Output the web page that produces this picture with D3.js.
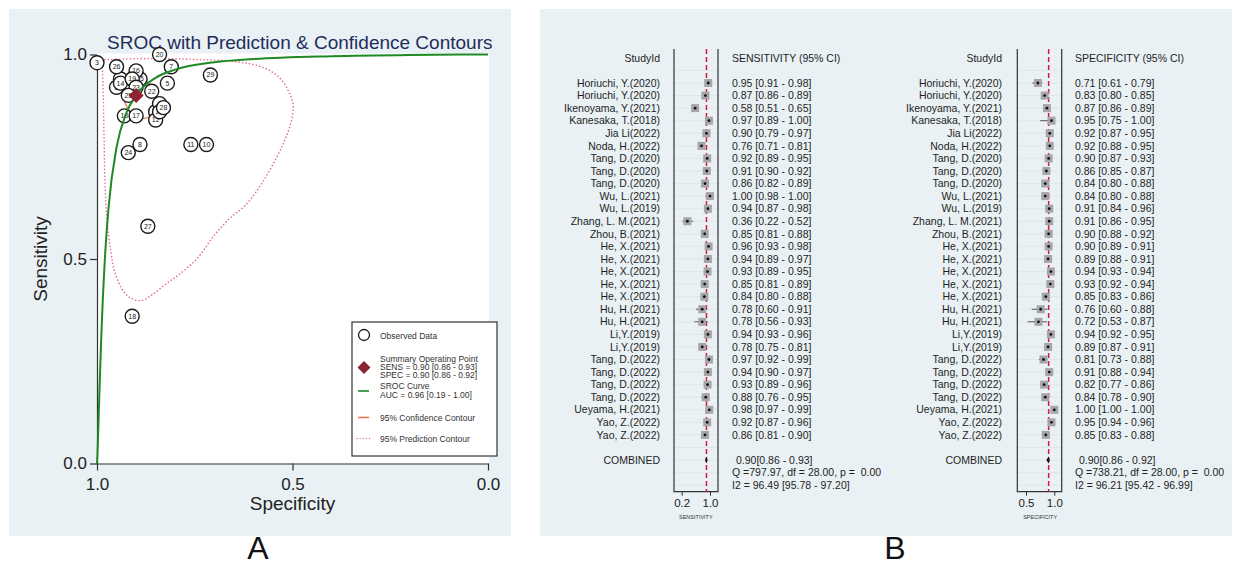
<!DOCTYPE html>
<html>
<head>
<meta charset="utf-8">
<script src="https://cdn.jsdelivr.net/npm/d3@7"></script>
<style>
  html, body { margin: 0; padding: 0; background: #ffffff; }
  svg { display: block; font-family: "Liberation Sans", Arial, Helvetica, sans-serif; }
  text { white-space: pre; }
</style>
</head>
<body>
<svg id="fig" width="1238" height="567"></svg>
<script>
// ---- Study-level accuracy data (estimate, lower, upper) ----
const studyIds = [
  "Horiuchi, Y.(2020)", "Horiuchi, Y.(2020)", "Ikenoyama, Y.(2021)", "Kanesaka, T.(2018)",
  "Jia Li(2022)", "Noda, H.(2022)", "Tang, D.(2020)", "Tang, D.(2020)", "Tang, D.(2020)",
  "Wu, L.(2021)", "Wu, L.(2019)", "Zhang, L. M.(2021)", "Zhou, B.(2021)",
  "He, X.(2021)", "He, X.(2021)", "He, X.(2021)", "He, X.(2021)", "He, X.(2021)",
  "Hu, H.(2021)", "Hu, H.(2021)", "Li,Y.(2019)", "Li,Y.(2019)",
  "Tang, D.(2022)", "Tang, D.(2022)", "Tang, D.(2022)", "Tang, D.(2022)",
  "Ueyama, H.(2021)", "Yao, Z.(2022)", "Yao, Z.(2022)"
];
const sensEst = [0.95, 0.87, 0.58, 0.97, 0.90, 0.76, 0.92, 0.91, 0.86, 1.00, 0.94, 0.36, 0.85,
                 0.96, 0.94, 0.93, 0.85, 0.84, 0.78, 0.78, 0.94, 0.78, 0.97, 0.94, 0.93, 0.88,
                 0.98, 0.92, 0.86];
const sensLo  = [0.91, 0.86, 0.51, 0.89, 0.79, 0.71, 0.89, 0.90, 0.82, 0.98, 0.87, 0.22, 0.81,
                 0.93, 0.89, 0.89, 0.81, 0.80, 0.60, 0.56, 0.93, 0.75, 0.92, 0.90, 0.89, 0.76,
                 0.97, 0.87, 0.81];
const sensHi  = [0.98, 0.89, 0.65, 1.00, 0.97, 0.81, 0.95, 0.92, 0.89, 1.00, 0.98, 0.52, 0.88,
                 0.98, 0.97, 0.95, 0.89, 0.88, 0.91, 0.93, 0.96, 0.81, 0.99, 0.97, 0.96, 0.95,
                 0.99, 0.96, 0.90];
const specEst = [0.71, 0.83, 0.87, 0.95, 0.92, 0.92, 0.90, 0.86, 0.84, 0.84, 0.91, 0.91, 0.90,
                 0.90, 0.89, 0.94, 0.93, 0.85, 0.76, 0.72, 0.94, 0.89, 0.81, 0.91, 0.82, 0.84,
                 1.00, 0.95, 0.85];
const specLo  = [0.61, 0.80, 0.86, 0.75, 0.87, 0.88, 0.87, 0.85, 0.80, 0.80, 0.84, 0.86, 0.88,
                 0.89, 0.88, 0.93, 0.92, 0.83, 0.60, 0.53, 0.92, 0.87, 0.73, 0.88, 0.77, 0.78,
                 1.00, 0.94, 0.83];
const specHi  = [0.79, 0.85, 0.89, 1.00, 0.95, 0.95, 0.93, 0.87, 0.88, 0.88, 0.96, 0.95, 0.92,
                 0.91, 0.91, 0.94, 0.94, 0.86, 0.88, 0.87, 0.95, 0.91, 0.88, 0.94, 0.86, 0.90,
                 1.00, 0.96, 0.88];

// ---- Pooled estimates and heterogeneity ----
const pooledSens = [0.90, 0.86, 0.93];
const pooledSpec = [0.90, 0.86, 0.92];
const sensStats = ["Q =797.97, df = 28.00, p =  0.00", "I2 = 96.49 [95.78 - 97.20]"];
const specStats = ["Q =738.21, df = 28.00, p =  0.00", "I2 = 96.21 [95.42 - 96.99]"];
const aucSummary = [0.96, 0.19, 1.00];

// ---- SROC curve and contours as (specificity, sensitivity) pairs ----
const srocCurve = [
  [1.000, 0.000], [0.999, 0.019], [0.997, 0.076], [0.994, 0.169], [0.990, 0.285],
  [0.980, 0.498], [0.970, 0.630], [0.950, 0.773], [0.925, 0.857], [0.900, 0.900],
  [0.850, 0.943], [0.800, 0.963], [0.700, 0.981], [0.600, 0.989], [0.400, 0.996],
  [0.200, 0.999], [0.000, 1.000]
];
const confContour = [
  [0.930, 0.925], [0.918, 0.940], [0.898, 0.946], [0.874, 0.936], [0.856, 0.916],
  [0.845, 0.890], [0.847, 0.866], [0.860, 0.851], [0.880, 0.844], [0.900, 0.849],
  [0.917, 0.862], [0.929, 0.884], [0.934, 0.905]
];
const predContour = [
  [0.988, 0.984], [0.950, 0.988], [0.850, 0.990], [0.750, 0.988], [0.650, 0.983],
  [0.580, 0.970], [0.535, 0.945], [0.510, 0.910], [0.498, 0.875], [0.505, 0.830],
  [0.520, 0.790], [0.540, 0.750], [0.575, 0.690], [0.620, 0.632], [0.660, 0.600],
  [0.700, 0.558], [0.745, 0.500], [0.790, 0.462], [0.822, 0.440], [0.860, 0.412],
  [0.888, 0.398], [0.915, 0.405], [0.935, 0.425], [0.955, 0.470], [0.965, 0.520],
  [0.975, 0.600], [0.980, 0.700], [0.982, 0.800], [0.984, 0.900], [0.986, 0.960]
];

// ---- Axis ticks ----
const srocTicks = [0.0, 0.5, 1.0];
const sensForestTicks = [0.2, 1.0];
const specForestTicks = [0.5, 1.0];

const BG = "#e9f1f4";
const f2 = d3.format(".2f");
const f1 = d3.format(".1f");
const svg = d3.select("#fig");

// Panel backgrounds
svg.append("rect").attr("x", 9).attr("y", 9).attr("width", 502).attr("height", 527).attr("fill", BG);
svg.append("rect").attr("x", 540).attr("y", 9).attr("width", 692).attr("height", 527).attr("fill", BG);

// ======================= Panel A: SROC =======================
const x = d3.scaleLinear().domain([1, 0]).range([97, 488]);
const y = d3.scaleLinear().domain([0, 1]).range([463.5, 54.5]);

const gA = svg.append("g");
gA.append("rect")
  .attr("x", x(1)).attr("y", y(1) - 1)
  .attr("width", x(0) - x(1) + 1).attr("height", y(0) - y(1) + 1)
  .attr("fill", "#ffffff");

gA.append("text")
  .attr("x", 107).attr("y", 49)
  .attr("font-size", 19).attr("fill", "#1f2d5c")
  .text("SROC with Prediction & Confidence Contours");

const yAxis = gA.append("g").attr("transform", `translate(${x(1)},0)`)
  .call(d3.axisLeft(y).tickValues(srocTicks).tickFormat(f1).tickSize(7).tickSizeOuter(0).tickPadding(3));
const xAxis = gA.append("g").attr("transform", `translate(0,${y(0)})`)
  .call(d3.axisBottom(x).tickValues(srocTicks).tickFormat(f1).tickSize(7).tickSizeOuter(0).tickPadding(7));
[yAxis, xAxis].forEach(a => {
  a.selectAll("text").attr("font-size", 17).attr("fill", "#222").attr("font-family", "Liberation Sans, Arial, sans-serif");
  a.selectAll("line, path").attr("stroke", "#333").attr("stroke-width", 1.2);
});

gA.append("text")
  .attr("x", x(0.5)).attr("y", 510).attr("text-anchor", "middle")
  .attr("font-size", 19).attr("fill", "#222").text("Specificity");
gA.append("text")
  .attr("transform", `translate(47,${y(0.5)}) rotate(-90)`)
  .attr("text-anchor", "middle").attr("font-size", 19).attr("fill", "#222").text("Sensitivity");

const pt = d => [x(d[0]), y(d[1])];

// Prediction contour (dotted)
gA.append("path")
  .attr("d", d3.line().curve(d3.curveCatmullRomClosed)(predContour.map(pt)))
  .attr("fill", "none").attr("stroke", "#e46f96").attr("stroke-width", 1.6)
  .attr("stroke-dasharray", "0.1,3.4").attr("stroke-linecap", "round");

// Confidence contour
gA.append("path")
  .attr("d", d3.line().curve(d3.curveCatmullRomClosed)(confContour.map(pt)))
  .attr("fill", "none").attr("stroke", "#f27a52").attr("stroke-width", 1.3);

// Observed studies (numbered in reverse listing order)
const obs = studyIds.map((s, i) => ({ id: studyIds.length - i, sens: sensEst[i], spec: specEst[i] }))
  .sort((a, b) => a.id - b.id);
const og = gA.append("g").selectAll("g").data(obs).join("g")
  .attr("transform", d => `translate(${x(d.spec)},${y(d.sens)})`);
og.append("circle").attr("r", 7).attr("fill", "#ffffff").attr("stroke", "#1a1a1a").attr("stroke-width", 1.4);
og.append("text").attr("text-anchor", "middle").attr("dy", "0.35em")
  .attr("font-size", 7).attr("fill", "#222").text(d => d.id);

// SROC curve
gA.append("path")
  .attr("d", d3.line().curve(d3.curveMonotoneX)(srocCurve.map(pt)))
  .attr("fill", "none").attr("stroke", "#1f8a24").attr("stroke-width", 2);

// Summary operating point
const diamond = (cx, cy, r) => `M${cx},${cy - r}L${cx + r},${cy}L${cx},${cy + r}L${cx - r},${cy}Z`;
gA.append("path").attr("d", diamond(x(pooledSpec[0]), y(pooledSens[0]), 7.5)).attr("fill", "#8c2431");

// Legend
const lg = gA.append("g");
lg.append("rect").attr("x", 352).attr("y", 322).attr("width", 145).attr("height", 134)
  .attr("fill", "#ffffff").attr("stroke", "#333").attr("stroke-width", 1.2);
const lt = (yy, s) => lg.append("text").attr("x", 380).attr("y", yy).attr("font-size", 8.5).attr("fill", "#333").text(s);
lg.append("circle").attr("cx", 364).attr("cy", 335).attr("r", 5.5).attr("fill", "#fff").attr("stroke", "#1a1a1a").attr("stroke-width", 1.3);
lt(338.5, "Observed Data");
lg.append("path").attr("d", diamond(364, 367.5, 6.5)).attr("fill", "#8c2431");
lt(362, "Summary Operating Point");
lt(370, `SENS = ${f2(pooledSens[0])} [${f2(pooledSens[1])} - ${f2(pooledSens[2])}]`);
lt(378, `SPEC = ${f2(pooledSpec[0])} [${f2(pooledSpec[1])} - ${f2(pooledSpec[2])}]`);
lg.append("line").attr("x1", 358).attr("x2", 369).attr("y1", 391).attr("y2", 391).attr("stroke", "#1f8a24").attr("stroke-width", 1.6);
lt(389, "SROC Curve");
lt(397.5, `AUC = ${f2(aucSummary[0])} [${f2(aucSummary[1])} - ${f2(aucSummary[2])}]`);
lg.append("line").attr("x1", 358).attr("x2", 369).attr("y1", 417.5).attr("y2", 417.5).attr("stroke", "#f27a52").attr("stroke-width", 1.6);
lt(420.5, "95% Confidence Contour");
lg.append("line").attr("x1", 357).attr("x2", 370).attr("y1", 438.5).attr("y2", 438.5).attr("stroke", "#e46f96")
  .attr("stroke-width", 1.3).attr("stroke-dasharray", "0.1,3").attr("stroke-linecap", "round");
lt(441.5, "95% Prediction Contour");

svg.append("text").attr("x", 258).attr("y", 559).attr("text-anchor", "middle")
  .attr("font-size", 32).attr("fill", "#111").text("A");

// ======================= Panel B: forest plots =======================
const rowY = d3.scaleLinear().domain([1, 33]).range([83, 485.2]);
const boxTop = 49, boxBottom = 491.7;

function forest(o) {
  const g = svg.append("g");
  const sx = d3.scaleLinear().domain(o.tickValues).range(o.tickRange);
  const [bl, br] = o.box;

  // row guide lines
  g.append("g").selectAll("line").data(d3.range(0, 34)).join("line")
    .attr("x1", bl).attr("x2", br).attr("y1", d => rowY(d)).attr("y2", d => rowY(d))
    .attr("stroke", "#dde3e7").attr("stroke-width", 0.8);

  // box sides and axis line
  g.append("path").attr("d", `M${bl},${boxTop}V${boxBottom}H${br}V${boxTop}`)
    .attr("fill", "none").attr("stroke", "#333").attr("stroke-width", 1.2);

  const ax = g.append("g").attr("transform", `translate(0,${boxBottom})`)
    .call(d3.axisBottom(sx).tickValues(o.tickValues).tickFormat(f1).tickSize(4).tickSizeOuter(0).tickPadding(3));
  ax.select(".domain").remove();
  ax.selectAll("line").attr("stroke", "#333");
  ax.selectAll("text").attr("font-size", 11.5).attr("fill", "#222").attr("font-family", "Liberation Sans, Arial, sans-serif");
  g.append("text").attr("x", (o.tickRange[0] + o.tickRange[1]) / 2).attr("y", 518.5)
    .attr("text-anchor", "middle").attr("font-size", 5.5).attr("fill", "#333").text(o.axisTitle);

  // pooled reference line
  g.append("line").attr("x1", sx(o.pooled[0])).attr("x2", sx(o.pooled[0]))
    .attr("y1", boxTop).attr("y2", boxBottom)
    .attr("stroke", "#d8173f").attr("stroke-width", 1.5).attr("stroke-dasharray", "5,3");

  const rows = o.labels.map((s, i) => ({ s, i: i + 1, e: o.est[i], l: o.lo[i], h: o.hi[i] }));

  // CI bars, weighted boxes, point markers
  const rg = g.append("g").selectAll("g").data(rows).join("g");
  rg.append("line").attr("x1", d => sx(d.l)).attr("x2", d => sx(d.h))
    .attr("y1", d => rowY(d.i)).attr("y2", d => rowY(d.i)).attr("stroke", "#555").attr("stroke-width", 1);
  rg.append("rect").attr("x", d => sx(d.e) - 4).attr("y", d => rowY(d.i) - 4)
    .attr("width", 8).attr("height", 8).attr("fill", "#a6a6a6");
  rg.append("circle").attr("cx", d => sx(d.e)).attr("cy", d => rowY(d.i)).attr("r", 1.4).attr("fill", "#111");

  // pooled diamond
  const cy = rowY(31);
  g.append("path")
    .attr("d", `M${sx(o.pooled[1])},${cy}L${sx(o.pooled[0])},${cy - 3.5}L${sx(o.pooled[2])},${cy}L${sx(o.pooled[0])},${cy + 3.5}Z`)
    .attr("fill", "#111");

  // study labels
  const tx = g.append("g").attr("font-size", 10.5).attr("fill", "#1e1e1e");
  tx.append("text").attr("x", o.labelRight).attr("y", rowY(-1)).attr("dy", "0.35em")
    .attr("text-anchor", "end").text("StudyId");
  tx.selectAll("text.lab").data(rows).join("text").attr("class", "lab")
    .attr("x", o.labelRight).attr("y", d => rowY(d.i)).attr("dy", "0.35em")
    .attr("text-anchor", "end").text(d => d.s);
  tx.append("text").attr("x", o.labelRight).attr("y", rowY(31)).attr("dy", "0.35em")
    .attr("text-anchor", "end").text("COMBINED");

  // estimate column
  tx.append("text").attr("x", o.textX).attr("y", rowY(-1)).attr("dy", "0.35em").text(o.header);
  tx.selectAll("text.val").data(rows).join("text").attr("class", "val")
    .attr("x", o.textX).attr("y", d => rowY(d.i)).attr("dy", "0.35em")
    .text(d => `${f2(d.e)} [${f2(d.l)} - ${f2(d.h)}]`);
  tx.append("text").attr("x", o.textX + 4).attr("y", rowY(31)).attr("dy", "0.35em")
    .text(`${f2(o.pooled[0])}[${f2(o.pooled[1])} - ${f2(o.pooled[2])}]`);
  o.stats.forEach((s, k) => {
    tx.append("text").attr("x", o.textX).attr("y", rowY(32 + k)).attr("dy", "0.35em").text(s);
  });
}

forest({
  labels: studyIds, est: sensEst, lo: sensLo, hi: sensHi, pooled: pooledSens, stats: sensStats,
  tickValues: sensForestTicks, tickRange: [681.7, 710], box: [674, 718],
  labelRight: 660, textX: 732, header: "SENSITIVITY (95% CI)", axisTitle: "SENSITIVITY"
});
forest({
  labels: studyIds, est: specEst, lo: specLo, hi: specHi, pooled: pooledSpec, stats: specStats,
  tickValues: specForestTicks, tickRange: [1026, 1054.3], box: [1017.3, 1061.7],
  labelRight: 1002, textX: 1075, header: "SPECIFICITY (95% CI)", axisTitle: "SPECIFICITY"
});

svg.append("text").attr("x", 895).attr("y", 559).attr("text-anchor", "middle")
  .attr("font-size", 32).attr("fill", "#111").text("B");
</script>
</body>
</html>
